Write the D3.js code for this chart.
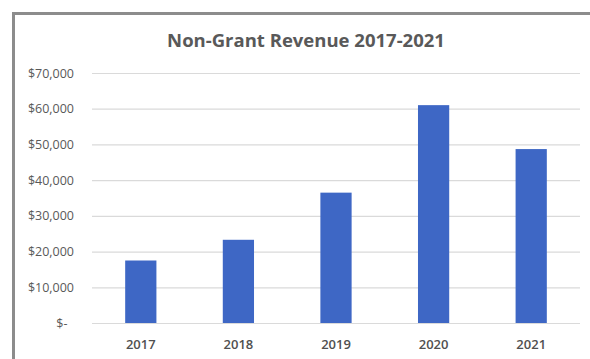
<!DOCTYPE html>
<html>
<head>
<meta charset="utf-8">
<script src="https://cdn.jsdelivr.net/npm/d3@7"></script>
<style>
  body { margin: 0; background: #fff; }
  svg { display: block; }
</style>
</head>
<body>
<svg id="chart" width="590" height="359"></svg>
<script>
// Revenue by year (USD)
const years = ["2017", "2018", "2019", "2020", "2021"];
const revenue = [17500, 23300, 36500, 61000, 48700];
const yTicks = [0, 10000, 20000, 30000, 40000, 50000, 60000, 70000];
const chartTitle = "Non-Grant Revenue 2017-2021";

const W = 590, H = 359;
const plot = { left: 92, right: 580, top: 73, bottom: 323 };
const textColor = "#595959";
const font = "'Open Sans', 'Liberation Sans', sans-serif";

const svg = d3.select("#chart");
svg.append("rect").attr("width", W).attr("height", H).attr("fill", "#fff");

// Frame along the top and left edges
svg.append("path")
  .attr("d", `M13.5,${H} V13.5 H${W}`)
  .attr("fill", "none")
  .attr("stroke", "#8c8c8c")
  .attr("stroke-width", 3);

const x = d3.scaleBand()
  .domain(years)
  .range([plot.left, plot.right])
  .paddingInner(0.68)
  .paddingOuter(0.34);

const y = d3.scaleLinear()
  .domain([0, 70000])
  .range([plot.bottom, plot.top]);

const money = d3.format(",");

// Horizontal gridlines with value labels
const yAxis = svg.append("g")
  .attr("transform", `translate(${plot.left},0)`)
  .call(d3.axisLeft(y)
    .tickValues(yTicks)
    .tickSize(-(plot.right - plot.left))
    .tickPadding(18)
    .tickFormat(d => d === 0 ? "$-\u00a0\u00a0" : "$" + money(d)));
yAxis.select(".domain").remove();
yAxis.selectAll(".tick line").attr("stroke", "#dadada").attr("stroke-width", 1.2);
yAxis.selectAll(".tick text")
  .attr("fill", textColor)
  .style("font-family", font)
  .style("font-size", "12.5px");

// Bars
svg.append("g")
  .selectAll("rect")
  .data(revenue)
  .join("rect")
  .attr("x", (d, i) => x(years[i]))
  .attr("y", d => y(d))
  .attr("width", x.bandwidth())
  .attr("height", d => y(0) - y(d))
  .attr("fill", "#3e67c5");

// Category labels
const xAxis = svg.append("g")
  .attr("transform", `translate(0,${plot.bottom})`)
  .call(d3.axisBottom(x).tickSize(0).tickPadding(17));
xAxis.select(".domain").remove();
xAxis.selectAll(".tick text")
  .attr("fill", "#505050")
  .style("font-family", font)
  .style("font-size", "13px")
  .style("font-weight", 600);

// Title
svg.append("text")
  .attr("x", 306)
  .attr("y", 47)
  .attr("text-anchor", "middle")
  .attr("fill", textColor)
  .style("font-family", font)
  .style("font-size", "18.5px")
  .style("font-weight", 700)
  .text(chartTitle);
</script>
</body>
</html>
